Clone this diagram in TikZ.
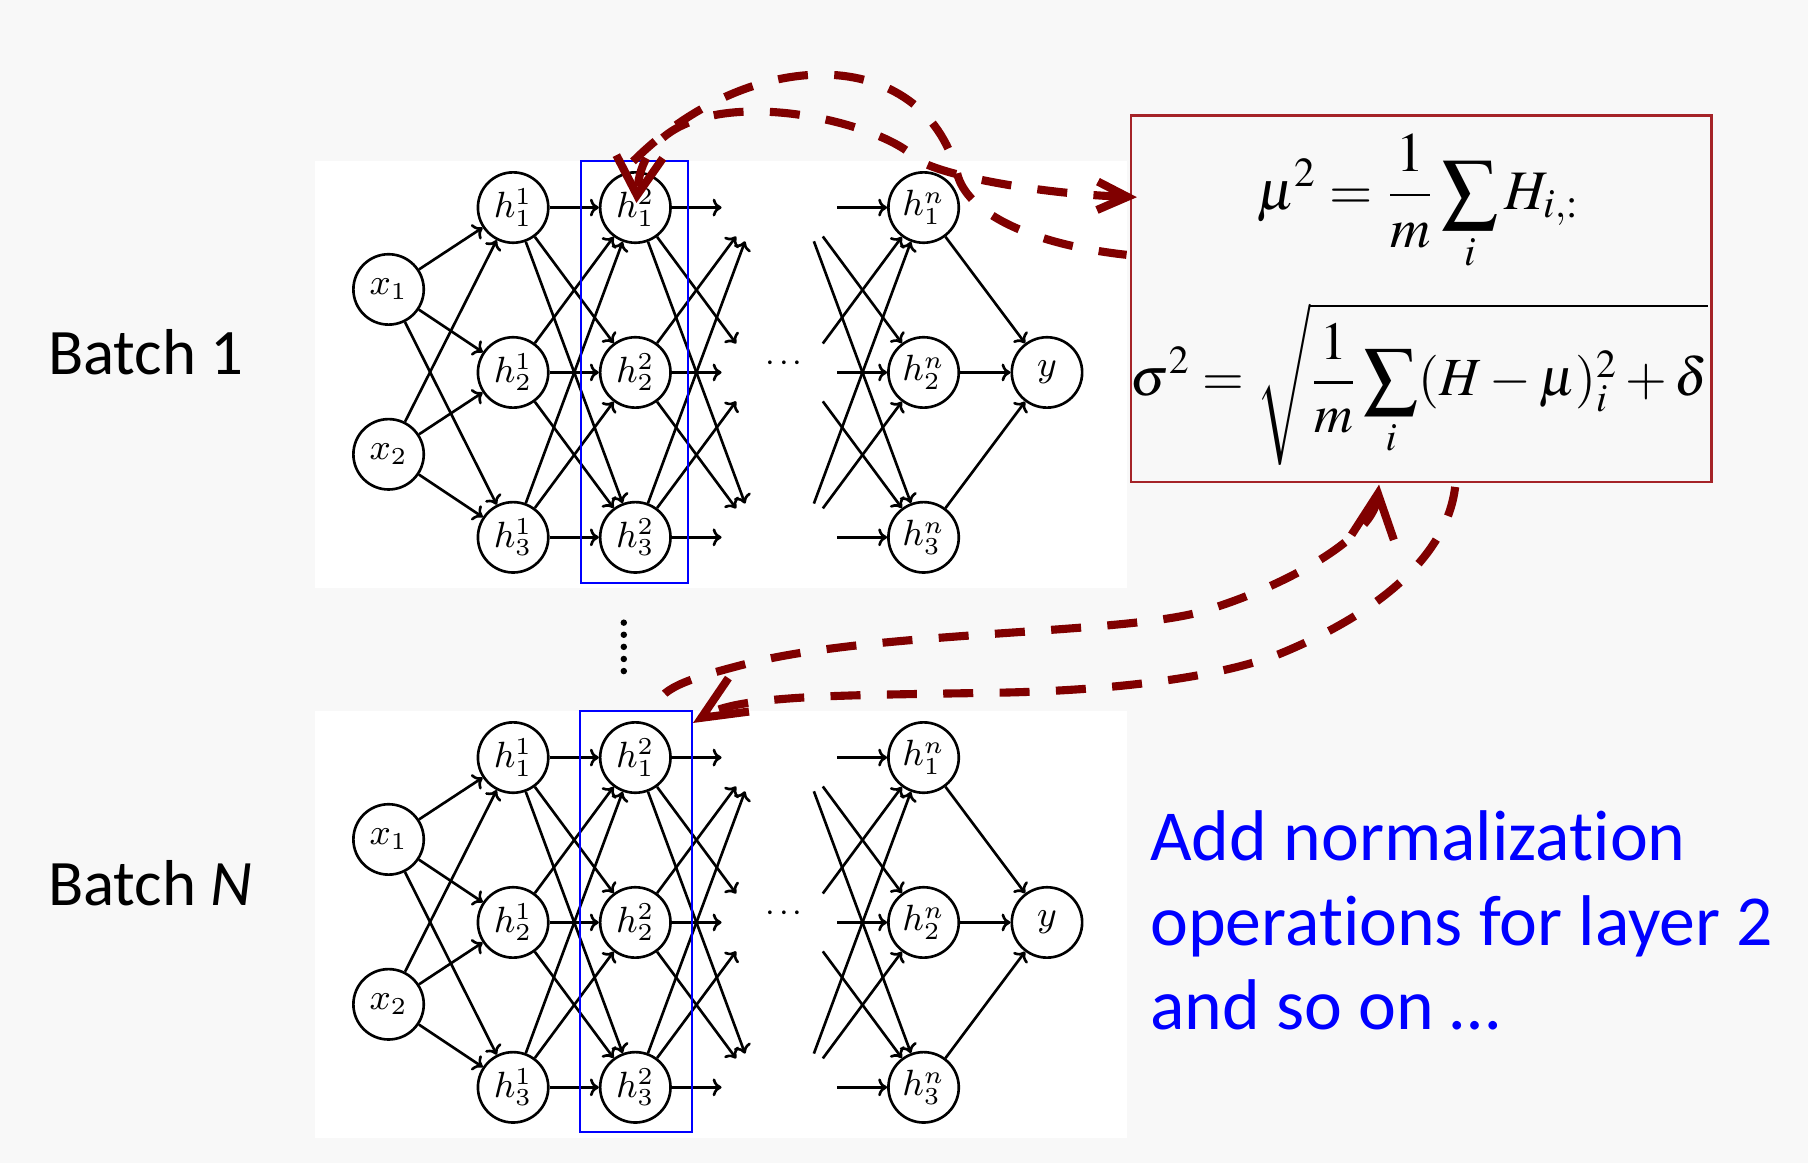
\documentclass[tikz,border=0pt]{standalone}
\usepackage{mathptmx}
\usepackage[no-math]{fontspec}
\newfontfamily\calibri{Carlito}[Ligatures=NoCommon]
\usetikzlibrary{arrows.meta,calc}
\DeclareMathAlphabet{\mathcmi}{OML}{lmm}{m}{it}
\DeclareMathAlphabet{\mathcmr}{OT1}{lmr}{m}{n}
\definecolor{bgcol}{RGB}{248,248,248}
\definecolor{darkred}{RGB}{128,0,0}
\definecolor{boxred}{RGB}{165,35,40}
\definecolor{textblue}{RGB}{0,0,255}
\tikzset{
  neuron/.style={circle, draw=black, line width=0.65pt, minimum size=0.61cm, inner sep=0pt, fill=white, font=\fontsize{8.6}{10}\selectfont},
  ghost/.style={circle, minimum size=0.61cm, inner sep=0pt},
  netarrow/.style={line width=0.65pt, -{To[length=2.2pt,width=4.4pt]}},
  bluebox/.style={draw=textblue, line width=0.5pt},
  reddash/.style={draw=darkred, line width=2pt, dash pattern=on 7.4pt off 6.5pt},
  batchlabel/.style={font=\calibri\fontsize{16}{19}\selectfont, anchor=base west, inner sep=0pt},
  bluetext/.style={font=\calibri\fontsize{17.7}{21}\selectfont, text=textblue, anchor=base west, inner sep=0pt},
  formula/.style={inner sep=0pt, font=\fontsize{14.5}{17}\selectfont},
}
\newcommand\netpanel[2]{%
  \fill[white] (273,140+#2) rectangle (977,510+#2);
  \foreach \i/\yy in {1/251,2/394}
    \node[neuron] (#1x\i) at (337,\yy+#2) {$\mathcmi{x}_{\mathcmr{\i}}$};
  \foreach \i/\yy in {1/180,2/323,3/466} {
    \node[neuron] (#1a\i) at (445,\yy+#2) {$\mathcmi{h}^{\mathcmr{1}}_{\mathcmr{\i}}$};
    \node[neuron] (#1b\i) at (551,\yy+#2) {$\mathcmi{h}^{\mathcmr{2}}_{\mathcmr{\i}}$};
    \node[ghost] (#1g\i) at (657,\yy+#2) {};
    \node[ghost] (#1k\i) at (695,\yy+#2) {};
    \node[neuron] (#1c\i) at (801,\yy+#2) {$\mathcmi{h}^{\mathcmi{n}}_{\mathcmr{\i}}$};
  }
  \node[neuron] (#1y) at (908,323+#2) {$\mathcmi{y}$};
  \node[font=\fontsize{8.6}{10}\selectfont] (#1dots) at (680,316+#2) {$\cdots$};
  \foreach \i in {1,2} \foreach \j in {1,2,3} \draw[netarrow] (#1x\i) -- (#1a\j);
  \foreach \i in {1,2,3} \foreach \j in {1,2,3} {
    \draw[netarrow] (#1a\i) -- (#1b\j);
    \draw[netarrow] (#1b\i) -- (#1g\j);
    \draw[netarrow] (#1k\i) -- (#1c\j);
  }
  \foreach \j in {1,2,3} \draw[netarrow] (#1c\j) -- (#1y);
}
\begin{document}
\begin{tikzpicture}[x=0.01cm, y=-0.01cm]
\useasboundingbox (0,0) rectangle (1568,1009);
\fill[bgcol] (0,0) rectangle (1568,1009);
\netpanel{A}{0}
\netpanel{B}{477}
\draw[bluebox] (503.6,139.6) rectangle (597,505.6);
\draw[bluebox] (503,617) rectangle (600,982);
\foreach \k in {0,...,4} \fill (541,540+10.5*\k) circle[radius=2.8];
\node[draw=boxred, line width=0.6pt, fill=bgcol, minimum width=5.03cm, minimum height=3.18cm, anchor=north west, inner sep=0pt] (stats) at (980,99) {};
\node[formula] (f1) at (1230,176) {\resizebox{2.8cm}{!}{$\displaystyle \mu^{2} = \frac{1}{m}\sum_{i} H_{i,:}$}};
\node[formula, anchor=west] (f2) at (980,333) {\resizebox{5.0cm}{!}{$\displaystyle \sigma^{2} = \sqrt{\frac{1}{m}\sum_{i}(H-\mu)_{i}^{2}+\delta}$}};
\node[batchlabel] (b1) at (41,325) {Batch 1};
\node[batchlabel] (bN) at (41,785) {Batch \textit{N}};
\node[bluetext] (t1) at (997,746) {Add normalization};
\node[bluetext] (t2) at (997,820) {operations for layer 2};
\node[bluetext] (t3) at (997,893) {and so on …};
% top curves
\draw[reddash] ($(Ab1.center)+(-2,-40)$) .. controls (651,38) and (800,38) .. (830,150) .. controls (838,185) and (895,212) .. ($(stats.north west)+(-3,122)$);
\draw[reddash, {Straight Barb[length=7.4pt,width=7pt]}-{Straight Barb[length=9.5pt,width=11.5pt]}] ($(stats.north west)+(6,72)$) .. controls (900,168) and (815,152) .. (795,138) .. controls (760,100) and (560,57) .. ($(Ab1.center)+(1,-4)$);
% bottom curves
\draw[reddash, {Straight Barb[length=10.8pt,width=10.5pt]}-] ($(stats.south west)+(216,1)$) .. controls (1190,470) and (1100,515) .. (1036,532) .. controls (960,550) and (760,548) .. (650,575) .. controls (600,588) and (575,595) .. ($(Bb1.center)+(17,-44)$);
\draw[reddash, -{Straight Barb[length=10.8pt,width=9.7pt]}] ($(stats.south west)+(282,3)$) .. controls (1255,480) and (1200,530) .. (1110,567) .. controls (1050,590) and (950,600) .. (850,601) .. controls (730,603) and (640,603) .. ($(Bb1.center)+(50,-30)$);
\end{tikzpicture}
\end{document}
